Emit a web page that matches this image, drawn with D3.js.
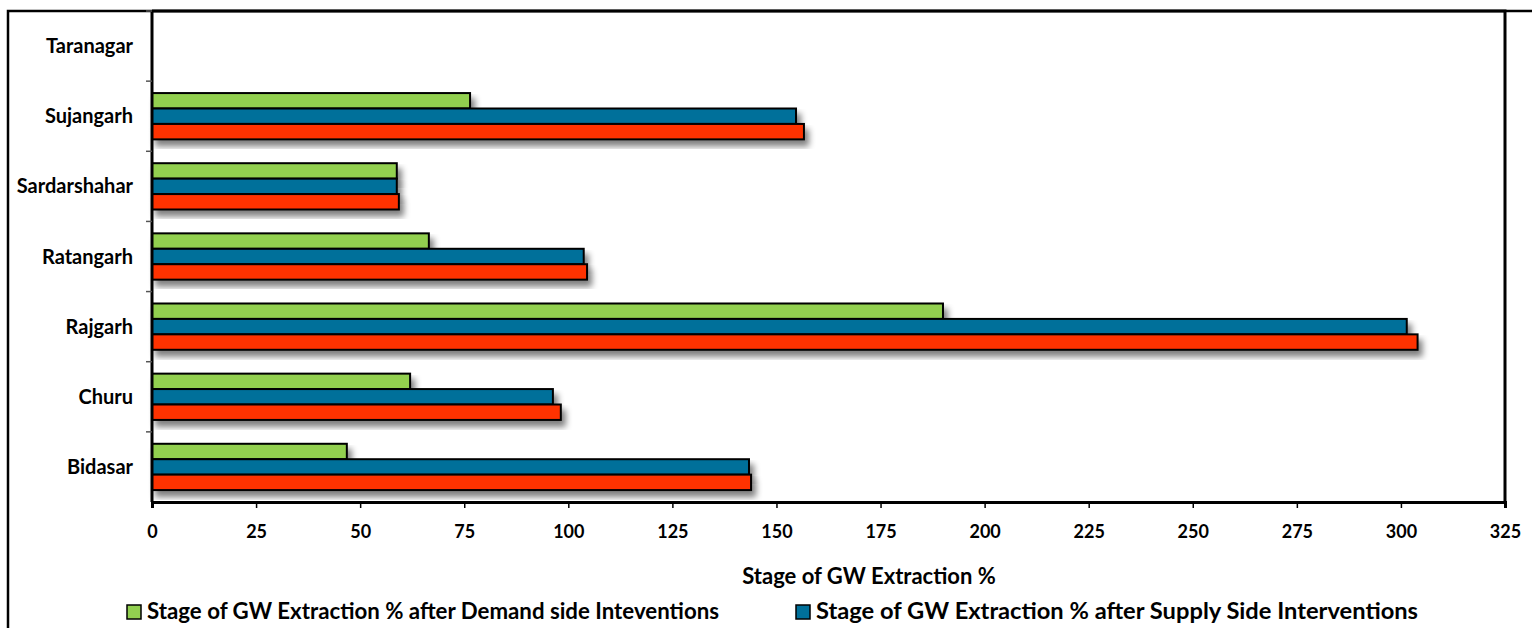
<!DOCTYPE html>
<html>
<head>
<meta charset="utf-8">
<script src="https://cdn.jsdelivr.net/npm/d3@7"></script>
<style>
  html, body { margin: 0; padding: 0; background: #fff; }
  svg { display: block; }
  text { font-family: Lato, "Open Sans", sans-serif; font-weight: bold; fill: #000; }
  .x-axis text { font-size: 18px; }
</style>
</head>
<body>
<svg id="chart" width="1532" height="628"></svg>
<script>
// Blocks, listed bottom to top as they appear on the axis
const blocks = ["Bidasar", "Churu", "Rajgarh", "Ratangarh", "Sardarshahar", "Sujangarh", "Taranagar"];

// Stage of GW extraction (%) for each block; Taranagar has no figures
const demandSide = [46.8, 62.0, 190.0, 66.5, 58.8, 76.4, null];
const supplySide = [143.4, 96.3, 301.4, 103.7, 58.8, 154.7, null];
const current    = [143.9, 98.2, 304.0, 104.5, 59.3, 156.6, null];

const seriesNames = [
  "Stage of GW Extraction % after Demand side Inteventions",
  "Stage of GW Extraction % after Supply Side Interventions",
  "Stage of GW Extraction %"
];
const seriesColors = ["#92D050", "#00709A", "#FF3300"];
const xTicks = [0, 25, 50, 75, 100, 125, 150, 175, 200, 225, 250, 275, 300, 325];

const series = [demandSide, supplySide, current];

const svg = d3.select("#chart");
const plot = { left: 152, right: 1505, top: 11, bottom: 502 };

// Drop shadow under each bar
const defs = svg.append("defs");
const f = defs.append("filter").attr("id", "shadow")
  .attr("x", "-5%").attr("y", "-30%").attr("width", "115%").attr("height", "190%");
f.append("feGaussianBlur").attr("in", "SourceAlpha").attr("stdDeviation", 3).attr("result", "blur");
f.append("feOffset").attr("in", "blur").attr("dx", 4).attr("dy", 6).attr("result", "off");
f.append("feComponentTransfer").attr("in", "off").attr("result", "soft")
  .append("feFuncA").attr("type", "linear").attr("slope", 0.5);
const merge = f.append("feMerge");
merge.append("feMergeNode").attr("in", "soft");
merge.append("feMergeNode").attr("in", "SourceGraphic");

// Chart area frame
svg.append("rect")
  .attr("x", 8).attr("y", 11).attr("width", 1540).attr("height", 640)
  .attr("fill", "none").attr("stroke", "#000").attr("stroke-width", 2.5);

const x = d3.scaleLinear().domain([0, 325]).range([plot.left, plot.right]);
const y = d3.scaleBand().domain(blocks).range([plot.bottom, plot.top])
  .paddingInner(0.34).paddingOuter(0.17);
const ySub = d3.scaleBand().domain(d3.range(series.length)).range([0, y.bandwidth()]);

// Bars
const groups = svg.append("g").selectAll("g")
  .data(blocks)
  .join("g")
  .attr("transform", d => `translate(0,${y(d)})`);

groups.selectAll("rect")
  .data((d, i) => series.map((s, k) => ({ k, v: s[i] })).filter(o => o.v != null))
  .join("rect")
  .attr("x", x(0))
  .attr("y", o => ySub(o.k))
  .attr("width", o => x(o.v) - x(0))
  .attr("height", ySub.bandwidth())
  .attr("fill", o => seriesColors[o.k])
  .attr("stroke", "#000")
  .attr("stroke-width", 2)
  .attr("filter", "url(#shadow)");

// Plot area border (top and right)
svg.append("path")
  .attr("d", `M${plot.left},${plot.top}H${plot.right}V${plot.bottom}`)
  .attr("fill", "none").attr("stroke", "#000").attr("stroke-width", 3);

// X axis
const xAxis = svg.append("g")
  .attr("class", "x-axis")
  .attr("transform", `translate(0,${plot.bottom})`)
  .call(d3.axisBottom(x).tickValues(xTicks).tickSize(6).tickPadding(17).tickFormat(d3.format("d")));
xAxis.attr("font-size", 18);
xAxis.select(".domain").attr("stroke-width", 3);
xAxis.selectAll(".tick line").attr("stroke-width", 1.5);

// Y axis: ticks sit on band boundaries, labels at band centres
const yAxis = svg.append("g").attr("transform", `translate(${plot.left},0)`);
yAxis.append("line")
  .attr("x1", 0).attr("x2", 0).attr("y1", plot.top).attr("y2", plot.bottom)
  .attr("stroke", "#000").attr("stroke-width", 3);
const step = y.step();
yAxis.selectAll(".ytick")
  .data(blocks)
  .join("line")
  .attr("class", "ytick")
  .attr("x1", -6).attr("x2", 0)
  .attr("y1", d => y(d) - y.paddingInner() * step / 2)
  .attr("y2", d => y(d) - y.paddingInner() * step / 2)
  .attr("stroke", "#555").attr("stroke-width", 1.5);
yAxis.selectAll(".ylab")
  .data(blocks)
  .join("text")
  .attr("class", "ylab")
  .attr("x", -19)
  .attr("y", d => y(d) + y.bandwidth() / 2 + 2)
  .attr("text-anchor", "end")
  .attr("dominant-baseline", "middle")
  .style("font-size", "20px")
  .text(d => d);

// Axis title
svg.append("text")
  .attr("x", 869).attr("y", 578)
  .attr("text-anchor", "middle")
  .attr("dominant-baseline", "middle")
  .style("font-size", "22px")
  .text("Stage of GW Extraction %");

// Legend
const legendItems = [
  { name: seriesNames[0], color: seriesColors[0], x: 127, len: 572 },
  { name: seriesNames[1], color: seriesColors[1], x: 796, len: 602 }
];
const lg = svg.append("g").selectAll("g")
  .data(legendItems)
  .join("g")
  .attr("transform", d => `translate(${d.x},612)`);
lg.append("rect")
  .attr("x", 0).attr("y", -7).attr("width", 14).attr("height", 14)
  .attr("fill", d => d.color).attr("stroke", "#000").attr("stroke-width", 1.5);
lg.append("text")
  .attr("x", 20).attr("y", 1)
  .attr("dominant-baseline", "middle")
  .attr("textLength", d => d.len)
  .attr("lengthAdjust", "spacingAndGlyphs")
  .style("font-size", "22px")
  .text(d => d.name);
</script>
</body>
</html>
